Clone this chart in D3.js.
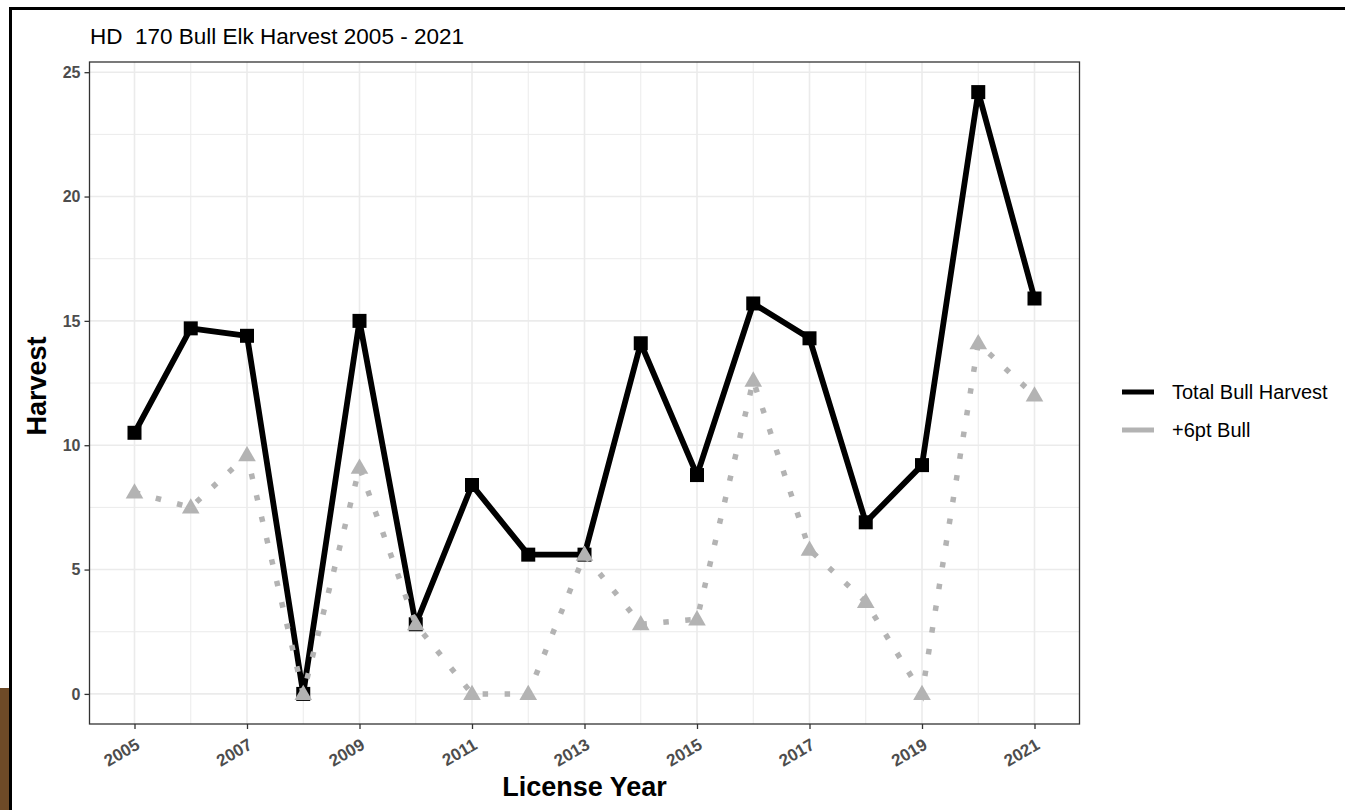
<!DOCTYPE html>
<html>
<head>
<meta charset="utf-8">
<script src="https://cdn.jsdelivr.net/npm/d3@7"></script>
<style>
  body { margin: 0; background: #fff; }
  svg { display: block; font-family: "Liberation Sans", Arial, sans-serif; }
</style>
</head>
<body>
<script>
// data
var years = [2005, 2006, 2007, 2008, 2009, 2010, 2011, 2012, 2013, 2014, 2015, 2016, 2017, 2018, 2019, 2020, 2021]
var totalBull = [10.5, 14.7, 14.4, 0, 15.0, 2.8, 8.4, 5.6, 5.6, 14.1, 8.8, 15.7, 14.3, 6.9, 9.2, 24.2, 15.9]
var sixPtBull = [8.1, 7.5, 9.6, 0, 9.1, 2.8, 0, 0, 5.6, 2.8, 3.0, 12.6, 5.8, 3.7, 0, 14.1, 12.0]
var xTicks = [2005, 2007, 2009, 2011, 2013, 2015, 2017, 2019, 2021]
var xMinor = [2006, 2008, 2010, 2012, 2014, 2016, 2018, 2020]
var yTicks = [0, 5, 10, 15, 20, 25]
var yMinor = [2.5, 7.5, 12.5, 17.5, 22.5]
var seriesNames = ["Total Bull Harvest", "+6pt Bull"]

var W = 1345, H = 810
var pLeft = 89.5, pRight = 1079.5, pTop = 62, pBottom = 724

var svg = d3.select('body')
    .append('svg')
    .attr('width', W)
    .attr('height', H)

// outer frame bits
svg.append('rect').attr('x', 0).attr('y', 688).attr('width', 9).attr('height', H - 688).attr('fill', '#6e4a27')
svg.append('line').attr('x1', 10.5).attr('x2', 10.5).attr('y1', 7).attr('y2', H)
    .attr('stroke', '#000').attr('stroke-width', 3)
svg.append('line').attr('x1', 9).attr('x2', W).attr('y1', 8.5).attr('y2', 8.5)
    .attr('stroke', '#000').attr('stroke-width', 3)

var x = d3.scaleLinear().domain([2004.2, 2021.8]).range([pLeft, pRight])
var y = d3.scaleLinear().domain([-1.21, 25.41]).range([pBottom, pTop])

var panel = svg.append('g')

// grid
panel.selectAll('line.ymin').data(yMinor).enter().append('line')
    .attr('x1', pLeft).attr('x2', pRight)
    .attr('y1', function(d) { return y(d) }).attr('y2', function(d) { return y(d) })
    .attr('stroke', '#ebebeb').attr('stroke-width', 1)
panel.selectAll('line.xmin').data(xMinor).enter().append('line')
    .attr('y1', pTop).attr('y2', pBottom)
    .attr('x1', function(d) { return x(d) }).attr('x2', function(d) { return x(d) })
    .attr('stroke', '#ebebeb').attr('stroke-width', 1)
panel.selectAll('line.ymaj').data(yTicks).enter().append('line')
    .attr('x1', pLeft).attr('x2', pRight)
    .attr('y1', function(d) { return y(d) }).attr('y2', function(d) { return y(d) })
    .attr('stroke', '#ebebeb').attr('stroke-width', 1.6)
panel.selectAll('line.xmaj').data(xTicks).enter().append('line')
    .attr('y1', pTop).attr('y2', pBottom)
    .attr('x1', function(d) { return x(d) }).attr('x2', function(d) { return x(d) })
    .attr('stroke', '#ebebeb').attr('stroke-width', 1.6)

// series
var totalPts = years.map(function(yr, i) { return [yr, totalBull[i]] })
var sixPts = years.map(function(yr, i) { return [yr, sixPtBull[i]] })
var line = d3.line()
    .x(function(d) { return x(d[0]) })
    .y(function(d) { return y(d[1]) })

panel.append('path').datum(totalPts)
    .attr('d', line)
    .attr('fill', 'none').attr('stroke', '#000').attr('stroke-width', 5.8)
    .attr('stroke-linejoin', 'round')
panel.selectAll('rect.pt').data(totalPts).enter().append('rect')
    .attr('x', function(d) { return x(d[0]) - 7 })
    .attr('y', function(d) { return y(d[1]) - 7 })
    .attr('width', 14).attr('height', 14)
    .attr('fill', '#000')

panel.append('path').datum(sixPts)
    .attr('d', line)
    .attr('fill', 'none').attr('stroke', '#b3b3b3').attr('stroke-width', 5.5)
    .attr('stroke-dasharray', '5.5 16.5')
panel.selectAll('path.tri').data(sixPts).enter().append('path')
    .attr('d', d3.symbol().type(d3.symbolTriangle).size(135))
    .attr('transform', function(d) { return 'translate(' + x(d[0]) + ',' + (y(d[1]) + 1) + ')' })
    .attr('fill', '#b3b3b3')

// panel border
svg.append('rect').attr('x', pLeft).attr('y', pTop)
    .attr('width', pRight - pLeft).attr('height', pBottom - pTop)
    .attr('fill', 'none').attr('stroke', '#333').attr('stroke-width', 1.3)

// axes
var yAxis = svg.append('g').attr('transform', 'translate(' + pLeft + ',0)')
    .call(d3.axisLeft(y).tickValues(yTicks).tickSize(5).tickPadding(4))
var xAxis = svg.append('g').attr('transform', 'translate(0,' + pBottom + ')')
    .call(d3.axisBottom(x).tickValues(xTicks).tickFormat(d3.format('d')).tickSize(5))
yAxis.select('.domain').remove()
xAxis.select('.domain').remove()
svg.selectAll('.tick line').attr('stroke', '#333').attr('stroke-width', 1.3)
yAxis.selectAll('text')
    .attr('font-size', 16).attr('font-weight', 'bold').attr('fill', '#4d4d4d')
    .attr('font-family', '"Liberation Sans", Arial, sans-serif')
xAxis.selectAll('text')
    .attr('font-size', 17).attr('font-weight', 'bold').attr('fill', '#4d4d4d')
    .attr('font-family', '"Liberation Sans", Arial, sans-serif')
    .attr('text-anchor', 'end')
    .attr('dy', null)
    .attr('y', 0)
    .attr('transform', 'translate(6,24) rotate(-30)')

// titles
svg.append('text').attr('x', 90).attr('y', 44)
    .attr('font-size', 22.5).attr('fill', '#000')
    .style('white-space', 'pre')
    .text('HD  170 Bull Elk Harvest 2005 - 2021')
svg.append('text').attr('x', (pLeft + pRight) / 2).attr('y', 796)
    .attr('text-anchor', 'middle').attr('font-size', 27).attr('font-weight', 'bold')
    .text('License Year')
svg.append('text').attr('transform', 'translate(46,386) rotate(-90)')
    .attr('text-anchor', 'middle').attr('font-size', 27).attr('font-weight', 'bold')
    .text('Harvest')

// legend
var legend = svg.append('g').attr('transform', 'translate(1122,392)')
var lg = legend.selectAll('g').data(seriesNames).enter().append('g')
    .attr('transform', function(d, i) { return 'translate(0,' + (i * 38) + ')' })
lg.append('line').attr('x1', 0).attr('x2', 32).attr('y1', 0).attr('y2', 0)
    .attr('stroke', function(d, i) { return i === 0 ? '#000' : '#b3b3b3' })
    .attr('stroke-width', 5)
lg.append('text').attr('x', 50).attr('y', 7)
    .attr('font-size', 20).attr('fill', '#000')
    .text(function(d) { return d })
</script>
</body>
</html>
